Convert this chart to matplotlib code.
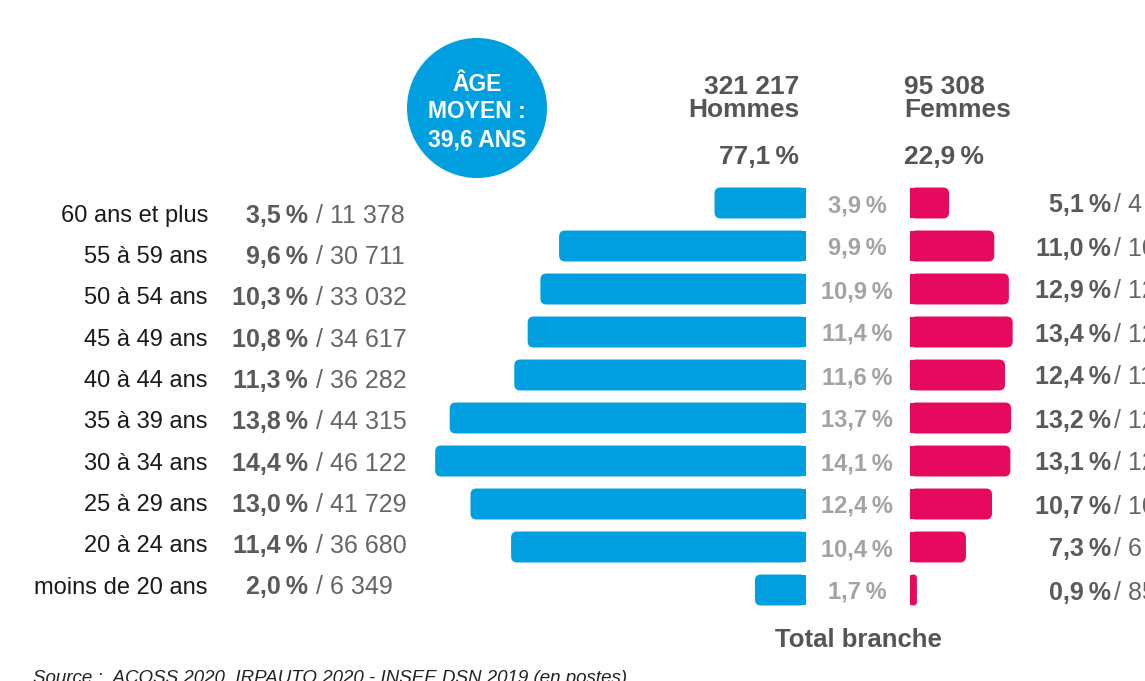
import matplotlib
matplotlib.use('Agg')
import matplotlib.pyplot as plt
from matplotlib.patches import FancyBboxPatch, Circle
from matplotlib.transforms import blended_transform_factory

# Données (de bas en haut)
ages = ['moins de 20 ans', '20 à 24 ans', '25 à 29 ans', '30 à 34 ans', '35 à 39 ans',
        '40 à 44 ans', '45 à 49 ans', '50 à 54 ans', '55 à 59 ans', '60 ans et plus']
hommes_pct = [2.0, 11.4, 13.0, 14.4, 13.8, 11.3, 10.8, 10.3, 9.6, 3.5]
hommes_n = [6349, 36680, 41729, 46122, 44315, 36282, 34617, 33032, 30711, 11378]
total_pct = [1.7, 10.4, 12.4, 14.1, 13.7, 11.6, 11.4, 10.9, 9.9, 3.9]
femmes_pct = [0.9, 7.3, 10.7, 13.1, 13.2, 12.4, 13.4, 12.9, 11.0, 5.1]
femmes_n = [858, 6957, 10198, 12485, 12581, 11818, 12771, 12295, 10484, 4861]
tot_hommes, tot_femmes = 321217, 95308
part_hommes, part_femmes = 77.1, 22.9
age_moyen = 39.6

BLUE = '#009fe0'
PINK = '#e50a5f'
DARK = '#555555'
LIGHT = '#a3a3a3'
plt.rcParams['font.family'] = ['Liberation Sans', 'DejaVu Sans']

W, H = 1145, 681
PX_PER_PERS = 0.00804  # échelle commune hommes / femmes


def pct(v):
    return f'{v:.1f}'.replace('.', ',') + '\u202f%'


def nb(n):
    return f'{n:,}'.replace(',', ' ')


fig = plt.figure(figsize=(W / 100, H / 100), dpi=100)

# calque "pixels" pour le décor
canvas = fig.add_axes([0, 0, 1, 1])
canvas.set_xlim(0, W)
canvas.set_ylim(H, 0)
canvas.axis('off')

# axes des barres
bot = (H - 611.5) / H
hgt = 430 / H
axL = fig.add_axes([400 / W, bot, 406 / W, hgt])
axR = fig.add_axes([910 / W, bot, 235 / W, hgt])
axL.set_xlim(406 / PX_PER_PERS, 0)
axR.set_xlim(0, 235 / PX_PER_PERS)
for ax in (axL, axR):
    ax.set_ylim(-0.5, 9.5)
    ax.axis('off')
    ax.patch.set_alpha(0)

bar_h = 0.72
r_px = 6
x_per_px = 1 / PX_PER_PERS
y_per_px = 1 / 43.0
aspect = y_per_px / x_per_px


def rounded_bar(ax, y, w, color):
    r = min(r_px * x_per_px, w / 2)
    box = FancyBboxPatch((0, y - bar_h / 2), w, bar_h,
                         boxstyle=f'round,pad=0,rounding_size={r}',
                         mutation_aspect=aspect, fc=color, ec='none', zorder=2)
    ax.add_patch(box)
    ax.barh(y, w / 2, height=bar_h, left=0, color=color, zorder=3)


for i in range(len(ages)):
    rounded_bar(axL, i, hommes_n[i], BLUE)
    rounded_bar(axR, i, femmes_n[i], PINK)

tr = blended_transform_factory(canvas.transData, axL.transData)

for i, age in enumerate(ages):
    y_lab = 585 - 41.3 * i
    canvas.text(208, y_lab, age, ha='right', va='center_baseline', fontsize=17, color='#1a1a1a')
    canvas.text(308, y_lab, pct(hommes_pct[i]), ha='right', va='center_baseline',
                fontsize=18, fontweight='bold', color='#5a5a5a')
    canvas.text(316, y_lab, '/ ' + nb(hommes_n[i]), ha='left', va='center_baseline',
                fontsize=18, color='#666666')
    # total branche
    canvas.text(857, i, pct(total_pct[i]), transform=tr, ha='center', va='center_baseline',
                fontsize=17, fontweight='bold', color=LIGHT)
    # femmes (coupé au bord droit comme dans l'original)
    canvas.text(1111, i, pct(femmes_pct[i]), transform=tr, ha='right', va='center_baseline',
                fontsize=18, fontweight='bold', color='#5a5a5a')
    canvas.text(1114, i, '/ ' + nb(femmes_n[i]), transform=tr, ha='left', va='center_baseline',
                fontsize=18, color='#666666', clip_on=False)

# en-têtes
canvas.text(799, 94, nb(tot_hommes), ha='right', va='baseline', fontsize=19, fontweight='bold', color=DARK)
canvas.text(799, 117, 'Hommes', ha='right', va='baseline', fontsize=19, fontweight='bold', color=DARK)
canvas.text(799, 164, pct(part_hommes), ha='right', va='baseline', fontsize=19, fontweight='bold', color=DARK)
canvas.text(904, 94, nb(tot_femmes), ha='left', va='baseline', fontsize=19, fontweight='bold', color=DARK)
canvas.text(904, 117, 'Femmes', ha='left', va='baseline', fontsize=19, fontweight='bold', color=DARK)
canvas.text(904, 164, pct(part_femmes), ha='left', va='baseline', fontsize=19, fontweight='bold', color=DARK)

# pastille âge moyen
canvas.add_patch(Circle((477, 108), 70, fc=BLUE, ec='none'))
for txt, y in [('ÂGE', 82), ('MOYEN :', 109), (f'{age_moyen:.1f} ANS'.replace('.', ','), 137)]:
    canvas.text(477, y, txt, ha='center', va='center_baseline', fontsize=16.5,
                fontweight='bold', color='white')

canvas.text(858, 647, 'Total branche', ha='center', va='baseline', fontsize=18.5,
            fontweight='bold', color=DARK)
canvas.text(33, 683, 'Source :  ACOSS 2020, IRPAUTO 2020 - INSEE DSN 2019 (en postes)',
            ha='left', va='baseline', fontsize=13.5, fontstyle='italic', color='#222222')

fig.savefig('out.png', dpi=100)
